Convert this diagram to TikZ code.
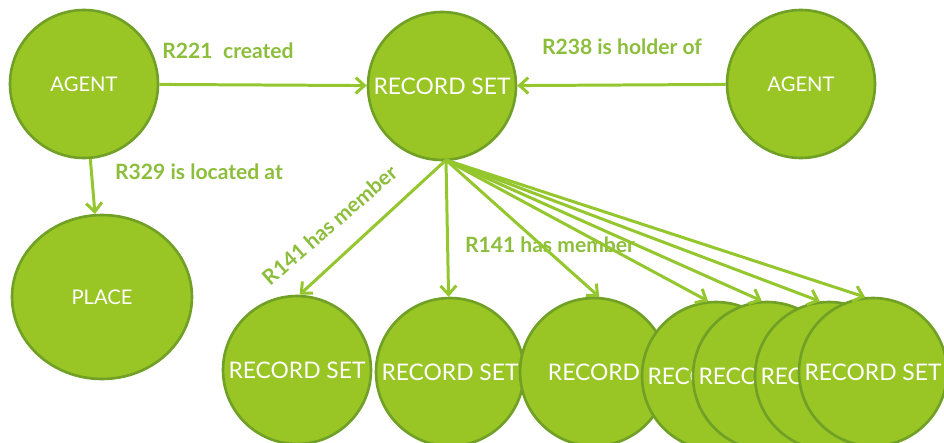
\documentclass[tikz,border=0pt]{standalone}
\usepackage{fontspec}
\setmainfont{Lato}
\usetikzlibrary{arrows.meta,shapes.geometric}
\definecolor{leaf}{RGB}{153,197,37}
\definecolor{leafdark}{RGB}{112,160,38}
\definecolor{leafline}{RGB}{148,198,46}
\definecolor{leaftext}{RGB}{140,190,60}

\begin{document}
\begin{tikzpicture}[x=0.02cm,y=-0.02cm,>={Straight Barb[length=5pt,width=9pt]},
  entity/.style={circle, fill=leaf, draw=leafdark, line width=1.5pt, minimum size=2.96cm, inner sep=0pt, text=white, font=\fontsize{11.5}{13}\selectfont},
  member/.style={entity, font=\fontsize{13}{15}\selectfont},
  link/.style={->, draw=leafline, line width=1.7pt},
  lbl/.style={text=leaftext, font=\bfseries\fontsize{12}{14}\selectfont}]
\useasboundingbox (0,0) rectangle (944,443);

\node[entity] (agent) at (84,84) {AGENT};
\node[member] (rs) at (442,86) {RECORD SET};
\node[entity] (agentb) at (801,84) {AGENT};
\node[entity, ellipse, minimum width=3.6cm, minimum height=3.28cm] (place) at (102,297) {PLACE};

% members, later ones on top
\node[member] (m1) at (297,370) {RECORD SET};
\node[member] (m2) at (450,372) {RECORD SET};
\node[member] (m3) at (594,372) {RECORD};
\node[member] (m4) at (716,376) {RECORD SET};
\node[member] (m5) at (767,376) {RECORD SET};
\node[member] (m6) at (829,376) {RECORD SET};
\node[member] (m7) at (873,372) {RECORD SET};

\node[lbl] (lcreated) at (228,51) {R221\enspace created};
\node[lbl] (lholder) at (622,47) {R238 is holder of};
\node[lbl] (llocated) at (199,172) {R329 is located at};
\node[lbl, rotate=41] (lmember) at (330,225) {R141 has member};
\node[lbl] (lmemberb) at (550,245) {R141 has member};

\draw[link] (agent) -- (rs);
\draw[link] (agentb) -- (rs);
\draw[link] (agent) -- (place);

\coordinate (fan) at (446,160);
\draw[link] (fan) -- (m1.88);
\draw[link] (fan) -- (m2);
\draw[link] (fan) -- (m3.86);
\draw[link] (fan) -- (m4.96);
\draw[link] (fan) -- (m5.94);
\draw[link] (fan) -- (m6.97);
\draw[link] (fan) -- (m7.96);
\end{tikzpicture}
\end{document}
